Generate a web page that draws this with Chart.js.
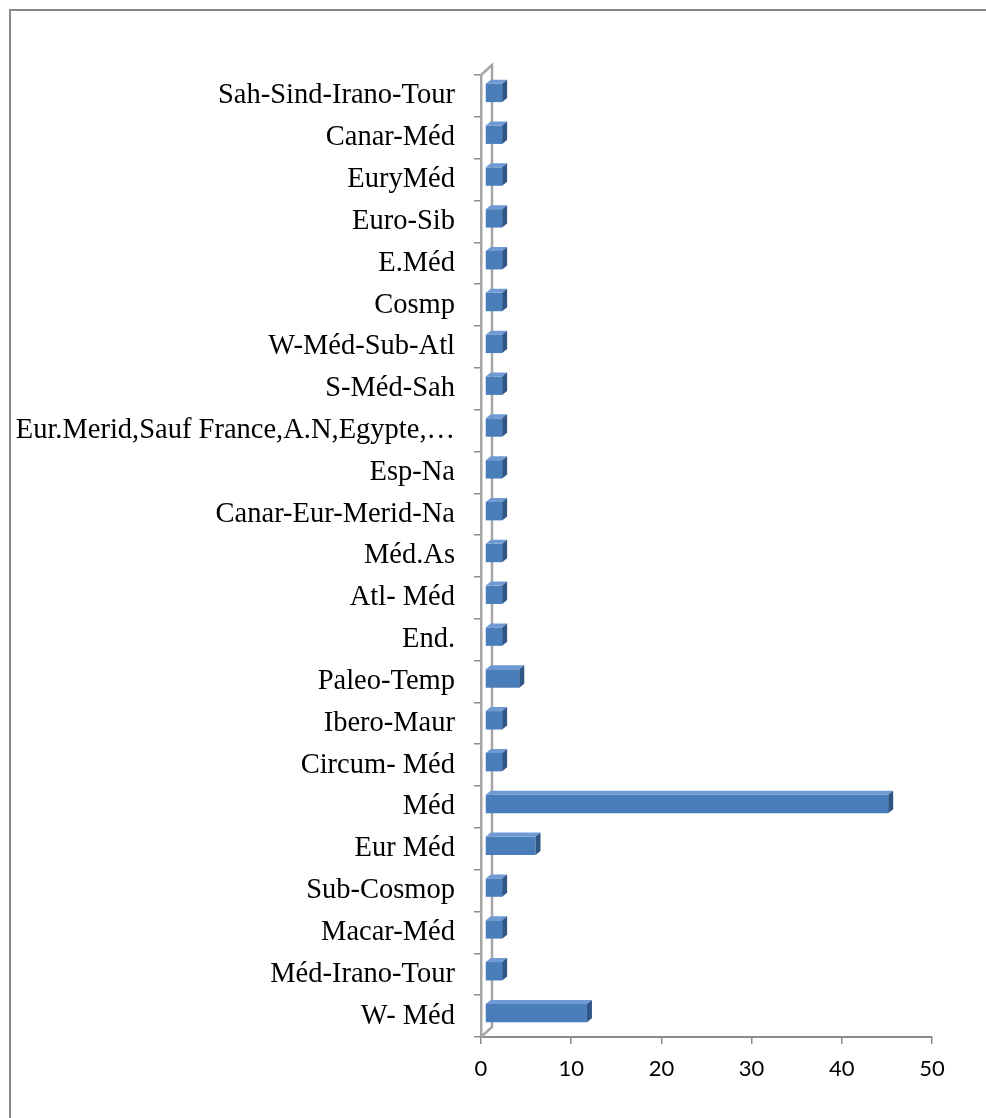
<!DOCTYPE html>
<html>
<head>
<meta charset="utf-8">
<script src="https://cdn.jsdelivr.net/npm/chart.js@4/dist/chart.umd.min.js"></script>
<style>
  html, body { margin: 0; padding: 0; background: #fff; overflow: hidden; }
  #frame {
    position: absolute; left: 9px; top: 9px;
    width: 1000px; height: 1200px;
    border: 2px solid #878787;
  }
  #myChart { position: absolute; left: 0; top: 0; }
</style>
</head>
<body>
<div id="frame"></div>
<canvas id="myChart" width="986" height="1118"></canvas>
<script>
// categories, bottom to top
const categories = [
  'W- Méd',
  'Méd-Irano-Tour',
  'Macar-Méd',
  'Sub-Cosmop',
  'Eur Méd',
  'Méd',
  'Circum- Méd',
  'Ibero-Maur',
  'Paleo-Temp',
  'End.',
  'Atl- Méd',
  'Méd.As',
  'Canar-Eur-Merid-Na',
  'Esp-Na',
  'Eur.Merid,Sauf France,A.N,Egypte,…',
  'S-Méd-Sah',
  'W-Méd-Sub-Atl',
  'Cosmp',
  'E.Méd',
  'Euro-Sib',
  'EuryMéd',
  'Canar-Méd',
  'Sah-Sind-Irano-Tour'
]

const values = [
  11.3, 1.9, 1.9, 1.9, 5.6, 44.7, 1.9, 1.9, 3.8, 1.9, 1.9, 1.9,
  1.9, 1.9, 1.9, 1.9, 1.9, 1.9, 1.9, 1.9, 1.9, 1.9, 1.9
]

const xTicks = [0, 10, 20, 30, 40, 50]

// 3d look: depth of the bars and of the side wall
const barDepth = { dx: 5, dy: 4 }
const wallDepth = { dx: 11, dy: 10 }
const barShift = { dx: 4, dy: -3 }

const wallPlugin = {
  id: 'wall',
  beforeDatasetsDraw(chart) {
    const { ctx, chartArea } = chart
    const l = chartArea.left, t = chartArea.top, b = chartArea.bottom
    ctx.save()
    ctx.strokeStyle = '#a6a6a6'
    ctx.lineWidth = 2.5
    ctx.beginPath()
    ctx.moveTo(l, t)
    ctx.lineTo(l + wallDepth.dx, t - wallDepth.dy)
    ctx.lineTo(l + wallDepth.dx, b - wallDepth.dy)
    ctx.lineTo(l, b)
    ctx.stroke()
    ctx.restore()
    // bars sit a little behind the front plane
    ctx.save()
    ctx.translate(barShift.dx, barShift.dy)
  },
  afterDatasetsDraw(chart) {
    const { ctx } = chart
    const meta = chart.getDatasetMeta(0)
    meta.data.forEach(bar => {
      const top = bar.y - bar.height / 2
      const bottom = bar.y + bar.height / 2
      const x = bar.x
      const base = bar.base
      // top face
      ctx.fillStyle = '#6f9ad3'
      ctx.beginPath()
      ctx.moveTo(base, top)
      ctx.lineTo(x, top)
      ctx.lineTo(x + barDepth.dx, top - barDepth.dy)
      ctx.lineTo(base + barDepth.dx, top - barDepth.dy)
      ctx.closePath()
      ctx.fill()
      // right face
      ctx.fillStyle = '#2f5685'
      ctx.beginPath()
      ctx.moveTo(x, top)
      ctx.lineTo(x + barDepth.dx, top - barDepth.dy)
      ctx.lineTo(x + barDepth.dx, bottom - barDepth.dy)
      ctx.lineTo(x, bottom)
      ctx.closePath()
      ctx.fill()
    })
    ctx.restore()
  }
}

const ctx = document.getElementById('myChart').getContext('2d')

new Chart(ctx, {
  type: 'bar',
  data: {
    labels: categories,
    datasets: [
      {
        data: values,
        backgroundColor: '#4a7ebb',
        borderWidth: 0,
        barPercentage: 0.44,
        categoryPercentage: 1
      }
    ]
  },
  options: {
    indexAxis: 'y',
    responsive: false,
    animation: false,
    layout: {
      padding: { top: 75, right: 54, bottom: 20, left: 0 }
    },
    plugins: {
      legend: { display: false },
      tooltip: { enabled: false }
    },
    scales: {
      y: {
        reverse: true,
        afterFit(scale) {
          scale.width = 481
        },
        border: { color: '#a6a6a6', width: 2.5 },
        grid: {
          drawOnChartArea: false,
          tickLength: 7,
          color: '#8c8c8c',
          lineWidth: 1.5
        },
        ticks: {
          padding: 19,
          color: '#000',
          autoSkip: false,
          font: { family: 'Liberation Serif', size: 28.5 }
        }
      },
      x: {
        min: 0,
        max: 50,
        afterBuildTicks(scale) {
          scale.ticks = xTicks.map(v => ({ value: v }))
        },
        afterFit(scale) {
          scale.height = 61
        },
        border: { color: '#8c8c8c', width: 2 },
        grid: {
          drawOnChartArea: false,
          tickLength: 7,
          color: '#8c8c8c',
          lineWidth: 1.5
        },
        ticks: {
          padding: 12,
          color: '#000',
          font: { family: 'Lato', size: 22 }
        }
      }
    }
  },
  plugins: [wallPlugin]
})
</script>
</body>
</html>
